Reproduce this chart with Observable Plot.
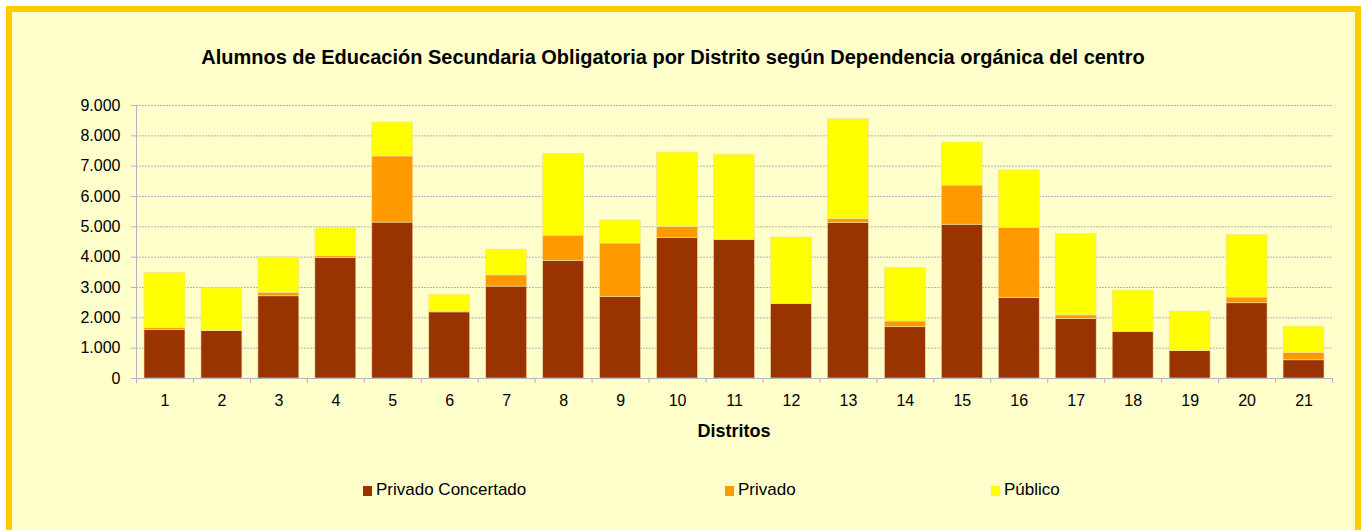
<!DOCTYPE html>
<html>
<head>
<meta charset="utf-8">
<script src="https://cdn.jsdelivr.net/npm/d3@7"></script>
<script src="https://cdn.jsdelivr.net/npm/@observablehq/plot@0.6"></script>
<style>
  html, body { margin: 0; padding: 0; background: #ffffff; }
  body { width: 1361px; height: 530px; position: relative; overflow: hidden; font-family: "Liberation Sans", Arial, sans-serif; }
  #frame { position: absolute; left: 6px; top: 6px; width: 1355px; height: 540px; box-sizing: border-box;
           border: 6px solid #FFCC00; background: #FFFFCC; }
  #title { position: absolute; left: 0; width: 1346px; top: 45px; text-align: center; font-weight: bold; font-size: 20px; line-height: 24px; color: #000; }
  #chart { position: absolute; left: 0; top: 90px; }
  #xlabel { position: absolute; left: 136px; width: 1196px; top: 421px; text-align: center; font-weight: bold; font-size: 18px; line-height: 20px; color: #000; }
  .leg { position: absolute; top: 481px; font-size: 17px; line-height: 18px; color: #000; white-space: nowrap; }
  .sw { display: inline-block; width: 9px; height: 10px; margin-right: 4px; vertical-align: -1px; }
</style>
</head>
<body>
<div id="frame"></div>
<div id="title">Alumnos de Educación Secundaria Obligatoria por Distrito según Dependencia orgánica del centro</div>
<div id="chart"></div>
<div id="xlabel">Distritos</div>
<div id="legend"></div>
<script>
const distritos = [1,2,3,4,5,6,7,8,9,10,11,12,13,14,15,16,17,18,19,20,21];
const series = ["Privado Concertado", "Privado", "Público"];
const colors = ["#993300", "#FF9900", "#FFFF00"];
const privadoConcertado = [1600,1560,2710,3970,5140,2180,3030,3880,2690,4630,4560,2460,5120,1690,5070,2650,1960,1540,900,2480,600];
const privado           = [  60,   0, 110,  60,2180,  30, 370, 830,1760, 370,  20,   0, 130, 190,1290,2320, 120,   0,  0, 190,240];
const publico           = [1820,1410,1170, 920,1120, 550, 850,2690, 760,2450,2800,2190,3300,1770,1420,1890,2680,1360,1310,2060,870];
const yTicks = [0,1000,2000,3000,4000,5000,6000,7000,8000,9000];

const values = [privadoConcertado, privado, publico];
const data = [];
distritos.forEach((d, i) => {
  let acc = 0;
  series.forEach((s, k) => {
    const v = values[k][i];
    data.push({distrito: d, serie: s, y1: acc, y2: acc + v});
    acc += v;
  });
});

const loc = d3.formatLocale({decimal: ",", thousands: ".", grouping: [3], currency: ["", ""]});
const fmt = loc.format(",");
const bounds = distritos.map(d => d - 0.5).concat([distritos[distritos.length - 1] + 0.5]);

const chart = Plot.plot({
  width: 1361,
  height: 360,
  marginLeft: 136,
  marginRight: 29,
  marginTop: 15,
  marginBottom: 72,
  style: {background: "transparent", fontFamily: "Liberation Sans, Arial, sans-serif", fontSize: "16px", color: "#000"},
  x: {domain: [0.5, 21.5], axis: null},
  y: {domain: [0, 9000], axis: null},
  color: {domain: series, range: colors},
  marks: [
    Plot.gridY(yTicks, {stroke: "#b4b4b4", strokeOpacity: 1, strokeDasharray: "2,1", strokeWidth: 1}),
    Plot.rect(data, {
      x1: d => d.distrito - 0.5, x2: d => d.distrito + 0.5,
      y1: "y1", y2: "y2", fill: "serie",
      insetLeft: 8, insetRight: 8,
      stroke: "#f0e0b0", strokeWidth: 0.6
    }),
    Plot.ruleX([0.5], {stroke: "#b4b4c8", strokeWidth: 1}),
    Plot.ruleY([0], {stroke: "#b4b4c8", strokeWidth: 1}),
    Plot.axisY({ticks: yTicks, tickFormat: fmt, tickSize: 5, tickPadding: 11, stroke: "#b4b4c8", fill: "#000", fontSize: 16}),
    Plot.axisX({ticks: bounds, tickFormat: () => "", tickSize: 5, stroke: "#b4b4c8"}),
    Plot.axisX({ticks: distritos, tickFormat: d => String(d), tickSize: 0, tickPadding: 16, fill: "#000", fontSize: 16, label: null})
  ]
});
document.getElementById("chart").appendChild(chart);

const legendX = [363, 725, 991];
const legend = document.getElementById("legend");
series.forEach((s, k) => {
  const el = document.createElement("div");
  el.className = "leg";
  el.style.left = legendX[k] + "px";
  el.innerHTML = `<span class="sw" style="background:${colors[k]}"></span>${s}`;
  legend.appendChild(el);
});
</script>
</body>
</html>
